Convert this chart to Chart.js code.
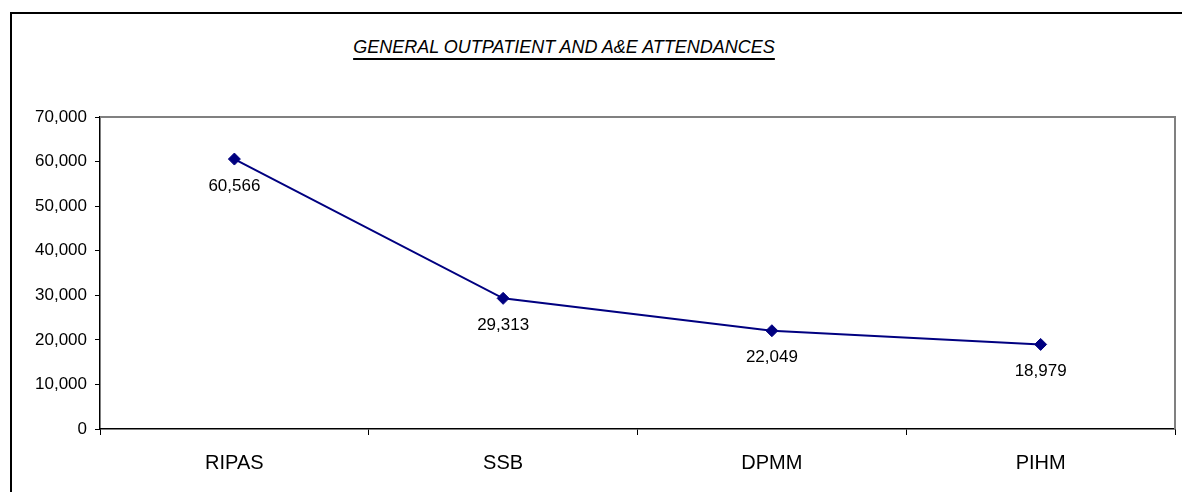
<!DOCTYPE html>
<html>
<head>
<meta charset="utf-8">
<script src="https://cdn.jsdelivr.net/npm/chart.js@4/dist/chart.umd.min.js"></script>
<style>
  html, body { margin: 0; padding: 0; background: #fff; }
  #wrap { position: relative; width: 1182px; height: 492px; overflow: hidden; }
  #frame { position: absolute; left: 10px; top: 12px; width: 1180px; height: 490px; border: 2px solid #000; box-sizing: border-box; }
  #title { position: absolute; left: 0; top: 37px; width: 1128px; text-align: center;
           font: italic 18px "Liberation Sans", Arial, sans-serif; color: #000;
           text-decoration: underline; text-underline-offset: 5px; text-decoration-thickness: 2px; }
  canvas { position: absolute; left: 0; top: 0; }
</style>
</head>
<body>
<div id="wrap">
  <div id="frame"></div>
  <div id="title">GENERAL OUTPATIENT AND A&amp;E ATTENDANCES</div>
  <canvas id="chart" width="1182" height="492"></canvas>
</div>
<script>
// data
const categories = ['RIPAS', 'SSB', 'DPMM', 'PIHM'];
const attendances = [60566, 29313, 22049, 18979];
const yMin = 0, yMax = 70000, yStep = 10000;

const fontFamily = '"Liberation Sans", Arial, sans-serif';

// gray frame on top/right of the plot area
const plotBorder = {
  id: 'plotBorder',
  afterDraw(chart) {
    const { ctx, chartArea: a } = chart;
    ctx.save();
    ctx.strokeStyle = '#808080';
    ctx.lineWidth = 2;
    ctx.beginPath();
    ctx.moveTo(a.left, a.top);
    ctx.lineTo(a.right, a.top);
    ctx.lineTo(a.right, a.bottom);
    ctx.stroke();
    ctx.restore();
  }
};

// value labels under each point
const valueLabels = {
  id: 'valueLabels',
  afterDatasetsDraw(chart) {
    const { ctx } = chart;
    const meta = chart.getDatasetMeta(0);
    ctx.save();
    ctx.font = '17px ' + fontFamily;
    ctx.fillStyle = '#000';
    ctx.textAlign = 'center';
    ctx.textBaseline = 'middle';
    meta.data.forEach((pt, i) => {
      ctx.fillText(attendances[i].toLocaleString('en-US'), pt.x, pt.y + 27);
    });
    ctx.restore();
  }
};

new Chart(document.getElementById('chart'), {
  type: 'line',
  data: {
    labels: categories,
    datasets: [{
      data: attendances,
      borderColor: '#000080',
      backgroundColor: '#000080',
      borderWidth: 2,
      pointStyle: 'rectRot',
      pointRadius: 6,
      pointBorderWidth: 1,
      pointHoverRadius: 6,
      tension: 0
    }]
  },
  options: {
    responsive: false,
    animation: false,
    layout: { padding: { top: 117, right: 7, left: 0, bottom: 0 } },
    plugins: { legend: { display: false }, tooltip: { enabled: false }, title: { display: false } },
    scales: {
      x: {
        offset: true,
        grid: { offset: true, drawOnChartArea: false, color: '#000', tickLength: 6, tickWidth: 1 },
        border: { color: '#000', width: 1.5 },
        ticks: { color: '#000', font: { family: fontFamily, size: 20 }, padding: 16 },
        afterFit(scale) { scale.height = 63; }
      },
      y: {
        min: yMin, max: yMax,
        grid: { drawOnChartArea: false, color: '#000', tickLength: 5, tickWidth: 1 },
        border: { color: '#000', width: 1.5 },
        ticks: {
          stepSize: yStep,
          color: '#000',
          padding: 8,
          font: { family: fontFamily, size: 17 },
          callback: v => v.toLocaleString('en-US')
        },
        afterFit(scale) { scale.width = 100; }
      }
    }
  },
  plugins: [plotBorder, valueLabels]
});
</script>
</body>
</html>
